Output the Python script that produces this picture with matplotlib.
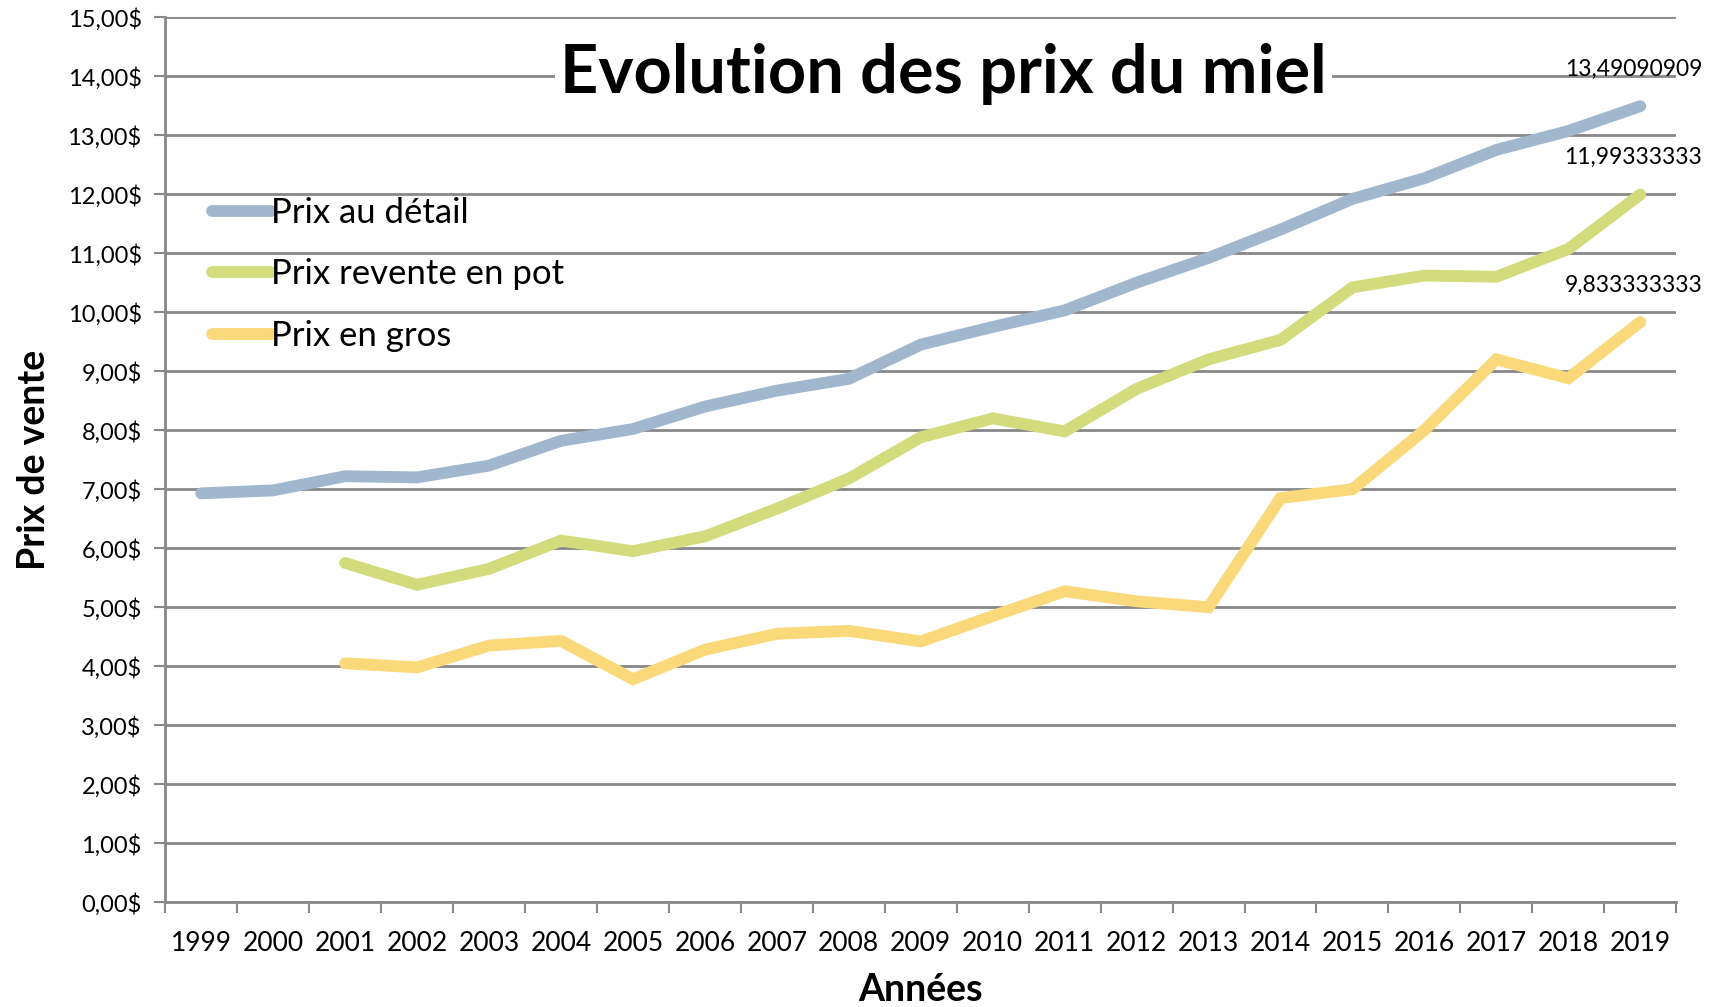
import numpy as np
import matplotlib
matplotlib.use("Agg")
import matplotlib.pyplot as plt
from matplotlib.ticker import FixedLocator, FuncFormatter

plt.rcParams["font.family"] = ["Lato", "DejaVu Sans"]

years = [str(y) for y in range(1999, 2020)]
detail = [6.93, 6.98, 7.22, 7.20, 7.40, 7.82, 8.02, 8.40, 8.67, 8.87, 9.45,
          9.75, 10.03, 10.50, 10.92, 11.40, 11.92, 12.27, 12.75, 13.07, 13.49090909]
pot = [None, None, 5.75, 5.38, 5.65, 6.13, 5.95, 6.20, 6.67, 7.18, 7.88,
       8.20, 7.98, 8.70, 9.20, 9.53, 10.42, 10.62, 10.60, 11.07, 11.99333333]
gros = [None, None, 4.05, 3.98, 4.35, 4.43, 3.78, 4.28, 4.55, 4.60, 4.42,
        4.85, 5.27, 5.10, 5.00, 6.85, 7.00, 8.00, 9.20, 8.88, 9.833333333]
end_labels = ["13,49090909", "11,99333333", "9,833333333"]

series = [
    ("Prix au détail", detail, "#a0b7cd"),
    ("Prix revente en pot", pot, "#d3dc7c"),
    ("Prix en gros", gros, "#fad97b"),
]

fig = plt.figure(figsize=(17.21, 10.07), dpi=100)
ax = fig.add_axes([0.096, 0.104, 0.878, 0.879])

x = np.arange(len(years))
for (name, vals, col), lab in zip(series, end_labels):
    v = np.array([np.nan if a is None else a for a in vals], dtype=float)
    ax.plot(x, v, color=col, lw=8.5, solid_capstyle="round",
            solid_joinstyle="miter", label=name, zorder=3)
    ax.annotate(lab, (x[-1], v[-1]), xytext=(-5, 19), textcoords="offset points",
                ha="center", va="bottom", fontsize=16.5, zorder=5)

ax.set_ylim(0, 15)
ax.set_xlim(-0.5, len(years) - 0.5)
ax.yaxis.set_major_locator(FixedLocator(np.arange(0, 16, 1)))
ax.yaxis.set_major_formatter(FuncFormatter(lambda v, p: f"{v:.2f}".replace(".", ",") + "$"))
ax.set_xticks(x)
ax.set_xticklabels(years)
ax.set_xticks(np.arange(-0.5, len(years), 1), minor=True)
ax.tick_params(axis="x", which="major", length=0, pad=21, labelsize=19)
ax.tick_params(axis="x", which="minor", length=8, width=1.5, color="#888888")
ax.tick_params(axis="y", length=8, width=1.5, color="#888888", labelsize=17, pad=9)

ax.grid(True, axis="y", color="#888888", lw=2)
ax.set_axisbelow(True)
for s in ["top", "right"]:
    ax.spines[s].set_visible(False)
for s in ["left", "bottom"]:
    ax.spines[s].set_color("#888888")
    ax.spines[s].set_linewidth(2)

ax.set_ylabel("Prix de vente", fontsize=27, fontweight="bold", labelpad=12)
ax.set_xlabel("Années", fontsize=27, fontweight="bold", labelpad=12)

ax.text(0.515, 0.936, "Evolution des prix du miel", transform=ax.transAxes,
        ha="center", va="center", fontsize=48, fontweight="bold", zorder=4,
        bbox=dict(facecolor="white", edgecolor="none", pad=4))

leg = ax.legend(loc="upper left", bbox_to_anchor=(0.031, 0.797), frameon=False,
                borderaxespad=0, borderpad=0,
                fontsize=25, handlelength=1.7, handletextpad=0.0, labelspacing=0.85)
for h in leg.get_lines():
    h.set_linewidth(8.5)
    h.set_solid_capstyle("round")

fig.savefig("out.png", dpi=100)
